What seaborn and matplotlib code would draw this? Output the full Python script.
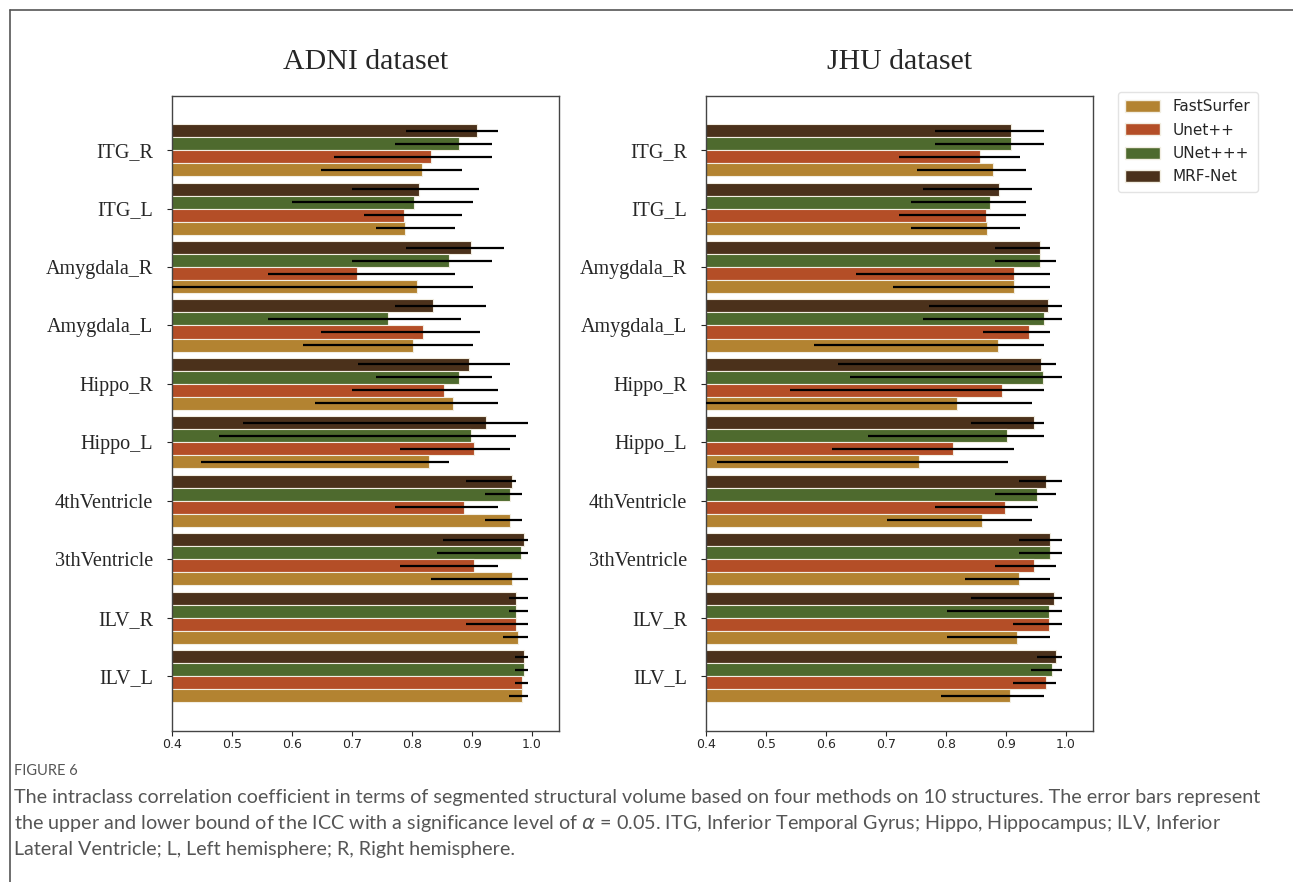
import matplotlib
matplotlib.use("Agg")
from matplotlib import pyplot as plt
from matplotlib.patches import Patch
from matplotlib.lines import Line2D
import seaborn as sns
import pandas as pd

structures = ['ITG_R', 'ITG_L', 'Amygdala_R', 'Amygdala_L', 'Hippo_R', 'Hippo_L',
              '4thVentricle', '3thVentricle', 'ILV_R', 'ILV_L']
methods = ['FastSurfer', 'Unet++', 'UNet+++', 'MRF-Net']
colors = {'FastSurfer': '#b38331', 'Unet++': '#b44e27', 'UNet+++': '#4e6a2e', 'MRF-Net': '#4b311b'}

# ADNI: ICC value, lower bound, upper bound (per structure)
adni_fast = [0.816, 0.788, 0.808, 0.801, 0.868, 0.828, 0.963, 0.967, 0.977, 0.983]
adni_fast_lo = [0.649, 0.740, 0.380, 0.619, 0.639, 0.449, 0.921, 0.831, 0.951, 0.961]
adni_fast_hi = [0.883, 0.872, 0.902, 0.902, 0.943, 0.862, 0.983, 0.993, 0.993, 0.993]
adni_unetpp = [0.832, 0.787, 0.709, 0.819, 0.854, 0.904, 0.886, 0.904, 0.973, 0.984]
adni_unetpp_lo = [0.670, 0.720, 0.560, 0.649, 0.700, 0.780, 0.771, 0.780, 0.890, 0.971]
adni_unetpp_hi = [0.933, 0.883, 0.872, 0.913, 0.943, 0.963, 0.943, 0.943, 0.993, 0.993]
adni_unetppp = [0.879, 0.803, 0.861, 0.760, 0.878, 0.899, 0.963, 0.982, 0.974, 0.987]
adni_unetppp_lo = [0.771, 0.600, 0.700, 0.560, 0.740, 0.479, 0.921, 0.841, 0.961, 0.971]
adni_unetppp_hi = [0.933, 0.902, 0.933, 0.882, 0.933, 0.973, 0.983, 0.993, 0.993, 0.993]
adni_mrf = [0.908, 0.811, 0.899, 0.835, 0.895, 0.924, 0.966, 0.986, 0.974, 0.987]
adni_mrf_lo = [0.790, 0.700, 0.790, 0.771, 0.710, 0.519, 0.890, 0.851, 0.961, 0.971]
adni_mrf_hi = [0.943, 0.912, 0.953, 0.923, 0.963, 0.993, 0.973, 0.993, 0.993, 0.993]

# JHU
jhu_fast = [0.879, 0.869, 0.913, 0.886, 0.818, 0.755, 0.860, 0.922, 0.919, 0.907]
jhu_fast_lo = [0.751, 0.741, 0.711, 0.580, 0.380, 0.419, 0.701, 0.831, 0.801, 0.791]
jhu_fast_hi = [0.934, 0.923, 0.973, 0.963, 0.943, 0.903, 0.943, 0.973, 0.973, 0.963]
jhu_unetpp = [0.857, 0.867, 0.914, 0.939, 0.894, 0.812, 0.898, 0.947, 0.972, 0.966]
jhu_unetpp_lo = [0.721, 0.721, 0.650, 0.861, 0.540, 0.610, 0.781, 0.881, 0.911, 0.911]
jhu_unetpp_hi = [0.923, 0.934, 0.973, 0.973, 0.963, 0.913, 0.953, 0.983, 0.993, 0.983]
jhu_unetppp = [0.909, 0.873, 0.956, 0.964, 0.961, 0.902, 0.951, 0.973, 0.971, 0.977]
jhu_unetppp_lo = [0.781, 0.741, 0.881, 0.761, 0.640, 0.670, 0.881, 0.921, 0.801, 0.941]
jhu_unetppp_hi = [0.964, 0.934, 0.983, 0.993, 0.993, 0.963, 0.983, 0.993, 0.993, 0.993]
jhu_mrf = [0.908, 0.888, 0.956, 0.970, 0.959, 0.946, 0.967, 0.973, 0.980, 0.983]
jhu_mrf_lo = [0.781, 0.761, 0.881, 0.771, 0.620, 0.841, 0.921, 0.921, 0.841, 0.951]
jhu_mrf_hi = [0.964, 0.943, 0.973, 0.993, 0.983, 0.963, 0.993, 0.993, 0.993, 0.993]


def make_df(vals, los, his):
    rows = []
    for m in methods:
        for s, v, lo, hi in zip(structures, vals[m], los[m], his[m]):
            rows.append({'Structure': s, 'Method': m, 'ICC': v, 'lo': lo, 'hi': hi})
    return pd.DataFrame(rows)


adni = make_df({'FastSurfer': adni_fast, 'Unet++': adni_unetpp, 'UNet+++': adni_unetppp, 'MRF-Net': adni_mrf},
               {'FastSurfer': adni_fast_lo, 'Unet++': adni_unetpp_lo, 'UNet+++': adni_unetppp_lo, 'MRF-Net': adni_mrf_lo},
               {'FastSurfer': adni_fast_hi, 'Unet++': adni_unetpp_hi, 'UNet+++': adni_unetppp_hi, 'MRF-Net': adni_mrf_hi})
jhu = make_df({'FastSurfer': jhu_fast, 'Unet++': jhu_unetpp, 'UNet+++': jhu_unetppp, 'MRF-Net': jhu_mrf},
              {'FastSurfer': jhu_fast_lo, 'Unet++': jhu_unetpp_lo, 'UNet+++': jhu_unetppp_lo, 'MRF-Net': jhu_mrf_lo},
              {'FastSurfer': jhu_fast_hi, 'Unet++': jhu_unetpp_hi, 'UNet+++': jhu_unetppp_hi, 'MRF-Net': jhu_mrf_hi})

sns.set_style("white")
W, H = 1293, 882
fig = plt.figure(figsize=(W / 100, H / 100), dpi=100)

# top-to-bottom order inside each group
hue_order = ['MRF-Net', 'UNet+++', 'Unet++', 'FastSurfer']

panels = [(adni, 'ADNI dataset', 172), (jhu, 'JHU dataset', 706)]
for df, title, x0 in panels:
    ax = fig.add_axes([x0 / W, 1 - 730.7 / H, 387 / W, 635 / H])
    sns.barplot(data=df, y='Structure', x='ICC', hue='Method', hue_order=hue_order,
                order=structures, palette=colors, orient='h', errorbar=None, saturation=1,
                width=0.89, edgecolor='#f2eee2', linewidth=0.8, legend=False, ax=ax)
    # asymmetric ICC bounds
    for cont, m in zip(ax.containers, hue_order):
        sub = df[df.Method == m].set_index('Structure').loc[structures]
        ys = [b.get_y() + b.get_height() / 2 for b in cont]
        ax.hlines(ys, sub['lo'], sub['hi'], color='black', linewidth=1.6, zorder=5)
    ax.set_xlim(0.4, 1.045)
    ax.set_ylim(9.93, -0.93)
    ax.set_xticks([0.4, 0.5, 0.6, 0.7, 0.8, 0.9, 1.0])
    ax.set_xlabel('')
    ax.set_ylabel('')
    ax.tick_params(axis='x', labelsize=9, length=3.5, width=0.8, bottom=True, pad=2)
    ax.tick_params(axis='y', length=3.5, width=0.8, left=True, pad=10)
    for lab in ax.get_yticklabels():
        lab.set_fontfamily('Liberation Serif')
        lab.set_fontsize(14.5)
    for sp in ax.spines.values():
        sp.set_color('#444444')
        sp.set_linewidth(1.0)
    ax.set_title(title, fontfamily='Liberation Serif', fontsize=21.5, pad=19)

handles = [Patch(facecolor=colors[m], edgecolor='#f2eee2', label=m) for m in methods]
fig.legend(handles=handles, loc='upper left', bbox_to_anchor=(1110 / W, 1 - 84 / H),
           fontsize=11, handlelength=2.3, handleheight=0.85, labelspacing=0.55,
           frameon=True, edgecolor='#dddddd', fancybox=True, borderpad=0.5)

# page frame lines
fig.add_artist(Line2D([10 / W, 1], [1 - 10 / H, 1 - 10 / H], color='#555555', linewidth=1.2))
fig.add_artist(Line2D([10 / W, 10 / W], [0, 1 - 10 / H], color='#555555', linewidth=1.2))

cap_font = 'Lato'
fig.text(14 / W, 1 - 771 / H, 'FIGURE 6', fontfamily=cap_font, fontsize=10.5, color='#555555',
         va='center', ha='left')
lines = [
    'The intraclass correlation coefficient in terms of segmented structural volume based on four methods on 10 structures. The error bars represent',
    r'the upper and lower bound of the ICC with a significance level of $\alpha$ = 0.05. ITG, Inferior Temporal Gyrus; Hippo, Hippocampus; ILV, Inferior',
    'Lateral Ventricle; L, Left hemisphere; R, Right hemisphere.',
]
for i, t in enumerate(lines):
    fig.text(14 / W, 1 - (797 + 26.3 * i) / H, t, fontfamily=cap_font, fontsize=14.2,
             color='#555555', va='center', ha='left')

fig.savefig('out.png', dpi=100)
